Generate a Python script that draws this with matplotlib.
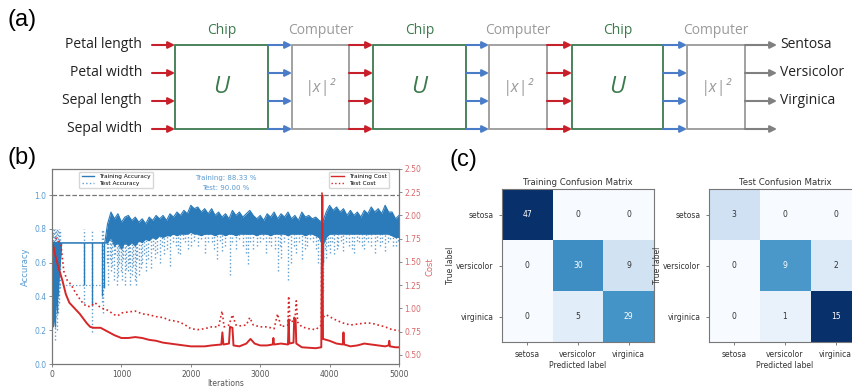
import matplotlib.pyplot as plt
from matplotlib.lines import Line2D
from matplotlib.patches import Rectangle
import numpy as np

# ---------------- (a) network diagram ----------------
features = ["Petal length", "Petal width", "Sepal length", "Sepal width"]
classes = ["Sentosa", "Versicolor", "Virginica"]
stages = ["Chip", "Computer", "Chip", "Computer", "Chip", "Computer"]
stage_x = [(175, 268), (292, 349), (373, 466), (489, 547), (572, 663), (687, 745)]
row_y = [45, 73, 101, 129]

# ---------------- (b) training history ----------------
# early iterations read individually, then every 50 iterations
acc_iter = [0, 20, 40, 60, 80, 100, 120, 140, 200, 300, 400, 500, 600, 700, 760] + list(range(800, 5001, 50))
train_acc_hi = [0.72, 0.72, 0.72, 0.72, 0.72, 0.72, 0.72, 0.717, 0.717, 0.717, 0.717, 0.717, 0.717, 0.717, 0.717,
                0.83, 0.90, 0.86, 0.89, 0.84, 0.87, 0.88, 0.85, 0.87, 0.84,
                0.86, 0.83, 0.87, 0.85, 0.88, 0.86, 0.88, 0.85, 0.89, 0.87,
                0.90, 0.88, 0.91, 0.89, 0.94, 0.92, 0.93, 0.90, 0.92, 0.89,
                0.92, 0.88, 0.90, 0.87, 0.89, 0.86, 0.91, 0.88, 0.90, 0.87,
                0.89, 0.91, 0.88, 0.86, 0.88, 0.85, 0.89, 0.87, 0.90, 0.86,
                0.89, 0.87, 0.90, 0.86, 0.88, 0.85, 0.90, 0.87, 0.88, 0.86,
                0.87, 0.85, 0.84, 0.90, 0.94, 0.91, 0.93, 0.90, 0.92, 0.88,
                0.91, 0.88, 0.90, 0.87, 0.91, 0.89, 0.93, 0.90, 0.92, 0.89,
                0.94, 0.90, 0.90, 0.86, 0.88]
train_acc_lo = [0.30, 0.22, 0.28, 0.35, 0.40, 0.50, 0.60, 0.717, 0.717, 0.717, 0.717, 0.717, 0.717, 0.717, 0.717,
                0.717, 0.75, 0.70, 0.72, 0.68, 0.72, 0.70, 0.72, 0.70, 0.73,
                0.72, 0.74, 0.73, 0.75, 0.74, 0.76, 0.75, 0.76, 0.76, 0.77,
                0.76, 0.77, 0.77, 0.77, 0.78, 0.77, 0.77, 0.76, 0.77, 0.77,
                0.77, 0.76, 0.77, 0.77, 0.76, 0.77, 0.77, 0.76, 0.77, 0.77,
                0.77, 0.77, 0.77, 0.76, 0.77, 0.77, 0.77, 0.76, 0.77, 0.77,
                0.77, 0.77, 0.76, 0.77, 0.77, 0.77, 0.77, 0.76, 0.77, 0.77,
                0.76, 0.75, 0.70, 0.75, 0.77, 0.77, 0.77, 0.77, 0.77, 0.77,
                0.77, 0.77, 0.77, 0.77, 0.77, 0.77, 0.77, 0.77, 0.77, 0.77,
                0.77, 0.77, 0.76, 0.75, 0.75]
train_dip_iter = [10, 30, 50, 70, 90, 455, 575, 725, 745, 3900]
train_dip_low = [0.25, 0.35, 0.22, 0.30, 0.40, 0.47, 0.35, 0.40, 0.45, 0.60]

test_acc_plateau = 0.467
test_plateau_span = (100, 760)
test_dip_iter = [15, 25, 40, 55, 65, 80, 95, 110, 455, 575, 720, 740,
                 790, 810, 830, 850, 870, 890, 910, 930, 950, 970, 990, 1010, 1030, 1050,
                 1070, 1090, 1110, 1130, 1150, 1170, 1190, 1210, 1230, 1250, 1280, 1300,
                 1330, 1350, 1380, 1420, 1450, 1480, 1520, 1550, 1590, 1620, 1660, 1700,
                 1740, 1780, 1820, 1850, 1890, 1920, 1960, 2000,
                 2050, 2100, 2150, 2200, 2250, 2300, 2340, 2380, 2420, 2450, 2500, 2560,
                 2600, 2650, 2700, 2750, 2790, 2820, 2860, 2900, 2950, 3000, 3040, 3080,
                 3120, 3160, 3210, 3250, 3280, 3300, 3350, 3400, 3450, 3490, 3520, 3560,
                 3600, 3640, 3680, 3720, 3760, 3800, 3840, 3870, 3880, 3900,
                 3930, 3950, 3980, 4000, 4030, 4060, 4100, 4120, 4160, 4200, 4240, 4280,
                 4320, 4350, 4390, 4420, 4460, 4500, 4530, 4560, 4600, 4650, 4690, 4720,
                 4760, 4800, 4840, 4870, 4910, 4950, 4990]
test_dip_low = [0.25, 0.33, 0.14, 0.28, 0.20, 0.30, 0.36, 0.45, 0.36, 0.19, 0.37, 0.30,
                0.60, 0.47, 0.62, 0.55, 0.58, 0.50, 0.65, 0.47, 0.52, 0.60, 0.55, 0.50, 0.62, 0.47,
                0.56, 0.55, 0.60, 0.47, 0.53, 0.58, 0.50, 0.47, 0.62, 0.53, 0.57, 0.60,
                0.65, 0.55, 0.62, 0.57, 0.68, 0.63, 0.66, 0.60, 0.70, 0.65, 0.68, 0.58,
                0.72, 0.70, 0.66, 0.65, 0.74, 0.72, 0.68, 0.70,
                0.73, 0.70, 0.74, 0.66, 0.72, 0.72, 0.68, 0.62, 0.73, 0.67, 0.70, 0.53,
                0.72, 0.68, 0.74, 0.70, 0.66, 0.59, 0.72, 0.68, 0.70, 0.72, 0.74, 0.66,
                0.72, 0.70, 0.68, 0.55, 0.70, 0.63, 0.72, 0.50, 0.60, 0.70, 0.66, 0.72,
                0.62, 0.68, 0.70, 0.74, 0.72, 0.68, 0.60, 0.55, 0.47, 0.43,
                0.68, 0.63, 0.70, 0.66, 0.72, 0.65, 0.68, 0.70, 0.73, 0.67, 0.72, 0.70,
                0.68, 0.66, 0.73, 0.72, 0.70, 0.68, 0.74, 0.72, 0.70, 0.66, 0.73, 0.70,
                0.72, 0.67, 0.72, 0.74, 0.70, 0.70, 0.73]

train_cost_iter = [0, 25, 50, 100, 150, 200, 250, 300, 400, 500, 550, 600, 700, 800, 900, 1000,
                   1100, 1200, 1300, 1400, 1500, 1600, 1700, 1800, 1900, 2000, 2100, 2200, 2300,
                   2440, 2455, 2470, 2550, 2565, 2600, 2615, 2700, 2800, 2860, 2920, 3000, 3100,
                   3180, 3190, 3200, 3300, 3400, 3410, 3420, 3480, 3490, 3510, 3520, 3600, 3700,
                   3800, 3880, 3895, 3905, 4000, 4100, 4190, 4200, 4210, 4300, 4400, 4500, 4600,
                   4700, 4800, 4850, 4860, 4870, 4950, 5000]
train_cost = [1.72, 1.65, 1.56, 1.42, 1.30, 1.15, 1.06, 1.02, 0.94, 0.84, 0.80, 0.79, 0.79, 0.75, 0.71, 0.68,
              0.68, 0.69, 0.68, 0.66, 0.65, 0.63, 0.62, 0.61, 0.60, 0.59, 0.59, 0.59, 0.60,
              0.61, 0.74, 0.61, 0.62, 0.80, 0.79, 0.60, 0.59, 0.62, 0.67, 0.62, 0.60, 0.60,
              0.61, 0.68, 0.61, 0.62, 0.61, 0.88, 0.62, 0.63, 0.90, 0.88, 0.62, 0.58, 0.575,
              0.57, 0.58, 2.22, 0.67, 0.65, 0.62, 0.61, 0.74, 0.61, 0.59, 0.60, 0.62, 0.61,
              0.60, 0.59, 0.60, 0.65, 0.59, 0.58, 0.58]

test_cost_iter = [0, 50, 100, 130, 170, 220, 270, 330, 400, 450, 500, 560, 620, 680, 750, 800,
                  900, 950, 1000, 1100, 1200, 1300, 1400, 1500, 1600, 1700, 1800, 1900, 2000,
                  2100, 2200, 2300, 2400, 2450, 2480, 2550, 2600, 2650, 2700, 2800, 2850, 2900,
                  3000, 3100, 3200, 3250, 3300, 3400, 3410, 3430, 3500, 3520, 3540, 3600, 3700,
                  3800, 3880, 3890, 3900, 3950, 4000, 4100, 4200, 4300, 4400, 4500, 4600, 4700,
                  4800, 4900, 5000]
test_cost = [1.79, 1.76, 1.72, 1.68, 1.40, 1.30, 1.26, 1.18, 1.10, 1.05, 1.02, 1.02, 1.06, 1.02, 0.99, 0.98,
             0.93, 0.92, 0.95, 0.96, 0.97, 0.94, 0.93, 0.91, 0.90, 0.87, 0.86, 0.83, 0.78,
             0.77, 0.78, 0.80, 0.80, 0.97, 0.80, 0.82, 0.93, 0.82, 0.81, 0.82, 0.90, 0.82,
             0.80, 0.80, 0.78, 0.94, 0.80, 0.82, 1.13, 0.85, 0.87, 1.08, 0.85, 0.80, 0.78,
             0.77, 0.82, 2.25, 0.90, 0.93, 0.91, 0.87, 0.84, 0.82, 0.83, 0.84, 0.84, 0.82,
             0.80, 0.77, 0.76]

# ---------------- (c) confusion matrices ----------------
labels = ["setosa", "versicolor", "virginica"]
cm_train = np.array([[47, 0, 0], [0, 30, 9], [0, 5, 29]])
cm_test = np.array([[3, 0, 0], [0, 9, 2], [0, 1, 15]])

W, H = 853, 387
fig = plt.figure(figsize=(W / 100, H / 100), dpi=100)

# diagram drawn in pixel coordinates
da = fig.add_axes([0, 0, 1, 1])
da.set_xlim(0, W)
da.set_ylim(H, 0)
da.axis("off")

dfont = "Open Sans"
green = "#3d7a4e"
grey = "#9a9a9a"
red = "#c8202a"
blue = "#4a7cc8"

def arrow(x0, x1, y, c):
    da.annotate("", xy=(x1, y), xytext=(x0, y),
                arrowprops=dict(arrowstyle="-|>", color=c, lw=1.5, mutation_scale=10,
                                shrinkA=0, shrinkB=0))

for i, (name, (x0, x1)) in enumerate(zip(stages, stage_x)):
    chip = name == "Chip"
    ec = green if chip else grey
    da.add_patch(Rectangle((x0, row_y[0]), x1 - x0, row_y[-1] - row_y[0],
                           fill=False, ec=ec, lw=1.3))
    da.text((x0 + x1) / 2, 31, name, ha="center", va="center", fontsize=10,
            color=ec, family=dfont)
    mid = (row_y[0] + row_y[-1]) / 2
    if chip:
        da.text((x0 + x1) / 2, mid, "U", ha="center", va="center", fontsize=17,
                color=green, style="italic", family=dfont)
    else:
        da.text((x0 + x1) / 2, mid, "|x|²", ha="center", va="center", fontsize=11.5,
                color=grey, style="italic", family=dfont)
    # arrows leaving this stage
    if i + 1 < len(stage_x):
        nx = stage_x[i + 1][0]
        for y in row_y:
            arrow(x1, nx, y, blue if chip else red)
    else:
        for y in row_y:
            arrow(x1, x1 + 32, y, "#808080")

for name, y in zip(features, row_y):
    da.text(142, y - 1, name, ha="right", va="center", fontsize=10, color="#222222", family=dfont)
    arrow(152, stage_x[0][0], y, red)

for name, y in zip(classes, row_y):
    da.text(780, y - 1, name, ha="left", va="center", fontsize=10, color="#222222", family=dfont)

da.text(8, 20, "(a)", ha="left", va="center", fontsize=17, family="Liberation Sans")
da.text(8, 158, "(b)", ha="left", va="center", fontsize=17, family="Liberation Sans")
da.text(450, 160, "(c)", ha="left", va="center", fontsize=17, family="Liberation Sans")

# ---------------- (b) ----------------
acc_c = "#2b7bba"
acc_tick = "#5b9bd0"
cost_c = "#d62728"
cost_tick = "#d8696a"
spine_c = "#777777"

ax = fig.add_axes([52 / W, 1 - 364 / H, 347 / W, 195 / H])
ax.fill_between(acc_iter, train_acc_lo, train_acc_hi, color=acc_c, lw=0)
ax.plot(acc_iter, train_acc_hi, color=acc_c, lw=0.8)
ax.plot(acc_iter, train_acc_lo, color=acc_c, lw=0.8)
ax.vlines(train_dip_iter, train_dip_low, 0.717, color=acc_c, lw=1.0)
ax.vlines(test_dip_iter, test_dip_low, 0.80, color=acc_c, lw=1.0, linestyles=":", alpha=0.75)
ax.hlines(test_acc_plateau, *test_plateau_span, color=acc_c, lw=0.9, linestyles=":", alpha=0.75)
ax.axhline(1.0, color="#777777", ls="--", lw=0.9)
ax.set_xlim(0, 5000)
ax.set_ylim(0, 1.155)
ax.set_xticks(range(0, 5001, 1000))
ax.set_yticks(np.arange(0, 1.01, 0.2))
ax.tick_params(labelsize=5.5, length=2.5, width=0.6, pad=1.5, colors=spine_c)
ax.tick_params(axis="y", labelcolor=acc_tick)
ax.tick_params(axis="x", labelcolor="#555555")
ax.set_xlabel("Iterations", fontsize=5.5, color="#555555", labelpad=0.5)
ax.set_ylabel("Accuracy", fontsize=6, color=acc_tick, labelpad=3)
for s in ax.spines.values():
    s.set_color(spine_c)
    s.set_linewidth(0.8)

ax.legend(handles=[Line2D([], [], color=acc_c, lw=1),
                   Line2D([], [], color=acc_c, lw=1, ls=":", alpha=0.75)],
          labels=["Training Accuracy", "Test Accuracy"], loc="upper left",
          bbox_to_anchor=(0.07, 1.0), fontsize=4.2, frameon=True, handlelength=2.2,
          borderpad=0.4, labelspacing=0.3)
ax.text(0.5, 0.955, "Training: 88.33 %", transform=ax.transAxes, ha="center", va="center",
        fontsize=5, color=acc_tick)
ax.text(0.5, 0.905, "Test: 90.00 %", transform=ax.transAxes, ha="center", va="center",
        fontsize=5, color=acc_tick)

ax2 = ax.twinx()
ax2.plot(train_cost_iter, train_cost, color=cost_c, lw=1.4)
ax2.plot(test_cost_iter, test_cost, color=cost_c, lw=1.2, ls=":")
ax2.set_ylim(0.40, 2.5)
ax2.set_yticks(np.arange(0.5, 2.51, 0.25))
ax2.tick_params(labelsize=5.5, length=2.5, width=0.6, pad=1.5, colors=spine_c, labelcolor=cost_tick)
ax2.set_ylabel("Cost", fontsize=6, color=cost_tick, labelpad=3)
for s in ax2.spines.values():
    s.set_color(spine_c)
    s.set_linewidth(0.8)
ax2.legend(handles=[Line2D([], [], color=cost_c, lw=1),
                    Line2D([], [], color=cost_c, lw=1, ls=":")],
           labels=["Training Cost", "Test Cost"], loc="upper right",
           bbox_to_anchor=(0.98, 1.0), fontsize=4.2, frameon=True, handlelength=2.2,
           borderpad=0.4, labelspacing=0.3)

# ---------------- (c) ----------------
def confusion(left, cm, title):
    a = fig.add_axes([left / W, 1 - 342 / H, 152 / W, 153 / H])
    a.imshow(cm, cmap="Blues", vmin=cm.min(), vmax=cm.max(), aspect="auto")
    thr = (cm.max() + cm.min()) / 2
    for i in range(3):
        for j in range(3):
            a.text(j, i, str(cm[i, j]), ha="center", va="center", fontsize=5.5,
                   color="white" if cm[i, j] > thr else "#333333")
    a.set_xticks(range(3))
    a.set_yticks(range(3))
    a.set_xticklabels(labels)
    a.set_yticklabels(labels)
    a.tick_params(labelsize=5.5, length=2.5, width=0.6, colors="#666666", labelcolor="#333333")
    a.set_xlabel("Predicted label", fontsize=5.5, color="#333333", labelpad=1)
    a.set_ylabel("True label", fontsize=5.5, color="#333333", labelpad=1)
    a.set_title(title, fontsize=6.2, color="#333333", pad=3)
    for s in a.spines.values():
        s.set_color("#777777")
        s.set_linewidth(0.8)

confusion(502, cm_train, "Training Confusion Matrix")
confusion(709, cm_test, "Test Confusion Matrix")

fig.savefig("out.png", dpi=100)
